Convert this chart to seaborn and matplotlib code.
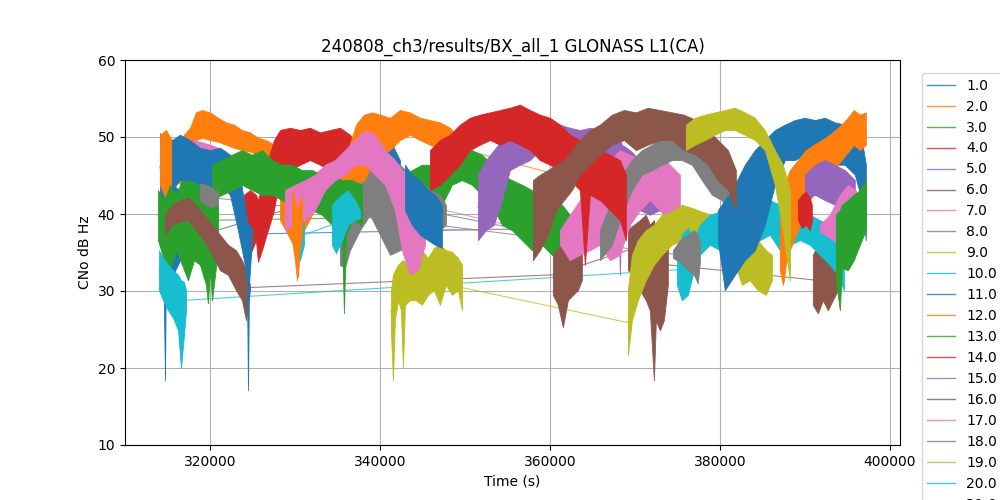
import numpy as np
import pandas as pd
import matplotlib
matplotlib.use('Agg')
import matplotlib.pyplot as plt
from matplotlib.lines import Line2D
import seaborn as sns

# Satellite C/N0 envelopes (time in s, low / high dB-Hz)
p01a_t = [314120, 314470, 314710, 314820, 315060, 315530, 316470, 317650, 318820, 320000]
p01a_hi = [50.5, 48.3, 47.0, 46.4, 45.7, 43.8, 43.1, 41.8, 41.2, 39.9]
p01a_lo = [41.8, 36.6, 18.4, 35.3, 32.7, 31.8, 34.0, 34.7, 35.3, 35.3]
p01b_t = [337650, 338240, 338820, 339410, 340000, 340590, 341180, 341760, 342350]
p01b_hi = [45.1, 49.6, 51.2, 51.9, 51.6, 50.9, 49.9, 48.3, 47.0]
p01b_lo = [41.8, 47.0, 48.6, 49.4, 48.6, 47.7, 45.7, 43.1, 41.8]

p02a_t = [314120, 314820, 315530, 316240, 316940, 317650, 318350, 319060, 320000, 320940,
          321880, 322820, 323760, 324710, 325650, 326590, 327530, 328000]
p02a_hi = [50.3, 50.9, 49.6, 48.3, 50.3, 51.2, 53.2, 53.5, 53.2, 52.5,
           51.9, 51.6, 50.9, 50.6, 49.9, 49.6, 49.0, 48.3]
p02a_lo = [43.8, 41.8, 43.1, 44.4, 42.5, 41.8, 49.6, 49.9, 49.6, 49.4,
           49.0, 48.6, 48.3, 48.1, 47.7, 47.3, 47.0, 46.8]

p03a_t = [313880, 314590, 315290, 316000, 316710, 317410, 318120, 318820, 319530, 319760,
          320000, 320240, 320940]
p03a_hi = [43.1, 41.8, 43.8, 42.5, 44.4, 45.7, 44.4, 45.1, 46.4, 45.7, 45.1, 45.1, 43.1]
p03a_lo = [36.6, 34.0, 32.7, 35.3, 33.4, 31.4, 34.0, 33.4, 30.8, 28.4, 32.7, 28.8, 35.3]
p03b_t = [340350, 341410, 342590, 343760, 344940, 346120, 347290, 348470, 349650, 350820,
          352000, 353180, 354350, 355530, 356710, 357880, 359060, 360240, 361410, 362350]
p03b_hi = [41.8, 43.8, 45.1, 45.7, 46.4, 46.4, 47.0, 48.3, 49.0, 48.3,
           47.7, 46.4, 45.1, 44.4, 43.8, 43.1, 42.5, 41.8, 41.2, 39.9]
p03b_lo = [37.3, 37.9, 36.6, 34.0, 37.9, 39.9, 41.2, 43.8, 44.4, 43.8,
           42.5, 41.2, 38.6, 37.9, 36.6, 35.3, 36.0, 34.7, 34.0, 33.4]

p04a_t = [324000, 324710, 325410, 325650, 326120, 326820, 327530, 328240, 329410, 330590,
          331760, 332940, 334120, 335290, 336470, 337650, 338820, 340000, 341180, 341880]
p04a_hi = [42.5, 43.1, 42.5, 41.8, 43.8, 47.0, 49.6, 50.9, 51.2, 50.9,
           51.2, 50.6, 50.9, 51.2, 50.3, 48.3, 46.4, 45.1, 45.7, 44.4]
p04a_lo = [36.6, 34.7, 36.6, 33.8, 35.3, 37.9, 40.5, 45.1, 45.7, 46.4,
           47.0, 46.4, 45.7, 46.4, 45.1, 41.8, 39.9, 37.9, 39.2, 37.9]

p05a_t = [351530, 352470, 353410, 354350, 355290, 356470, 357650, 358820, 360000, 361180,
          362350, 363530, 364710, 365880, 367060, 368000, 368240, 368470, 369410, 370590,
          371760, 372940, 374120]
p05a_hi = [45.1, 47.0, 48.3, 49.6, 50.3, 51.2, 51.6, 51.9, 51.6, 51.6,
           51.2, 50.9, 51.2, 50.9, 50.3, 49.6, 49.6, 49.0, 48.3, 47.0,
           45.7, 45.1, 43.8]
p05a_lo = [36.6, 37.9, 38.6, 41.8, 45.7, 46.4, 47.0, 48.3, 48.6, 48.3,
           48.3, 47.7, 47.7, 47.0, 46.4, 45.1, 32.1, 44.4, 43.1, 40.5,
           39.9, 40.5, 39.2]

p06a_t = [314710, 315530, 316470, 317410, 318350, 319290, 320240, 321180, 322120, 323060,
          323760, 324240, 324710]
p06a_hi = [39.9, 41.2, 41.8, 42.1, 41.2, 39.9, 38.6, 37.3, 36.0, 35.3, 34.0, 32.7, 30.8]
p06a_lo = [37.3, 38.6, 39.0, 39.2, 37.9, 36.6, 34.7, 32.7, 32.1, 30.1, 28.8, 26.2, 30.1]
p06b_t = [360350, 360940, 361530, 362120, 362710, 363290, 363760]
p06b_hi = [34.7, 35.6, 36.0, 36.6, 37.3, 36.6, 35.3]
p06b_lo = [29.5, 28.2, 25.3, 28.8, 29.5, 30.1, 31.4]
p06c_t = [369180, 369880, 370590, 371290, 371760, 372240, 372470, 372940, 373410, 373880]
p06c_hi = [37.9, 38.6, 39.2, 39.9, 38.6, 39.2, 37.9, 37.3, 36.6, 36.0]
p06c_lo = [32.7, 32.1, 30.1, 28.8, 27.5, 18.4, 26.2, 24.9, 26.2, 30.8]
p06d_t = [390940, 391530, 392120, 392710, 393290, 393880]
p06d_hi = [34.7, 36.0, 35.3, 36.0, 35.3, 34.0]
p06d_lo = [28.2, 27.1, 28.8, 27.5, 28.8, 30.1]

p07a_t = [315530, 316470, 317650, 318820, 320000, 320940, 321880]
p07a_hi = [48.3, 49.0, 49.6, 49.4, 49.0, 48.6, 48.1]
p07a_lo = [45.1, 46.4, 47.3, 47.7, 47.3, 47.0, 46.4]
p07b_t = [361180, 362350, 363530, 364710, 365880, 367060, 368240, 369410, 370590, 371760,
          372940, 374120, 375290]
p07b_hi = [37.9, 39.9, 41.8, 43.8, 45.7, 47.0, 48.3, 47.7, 47.0, 48.3, 47.7, 46.4, 45.1]
p07b_lo = [36.0, 34.0, 34.7, 35.3, 36.0, 34.0, 34.7, 38.6, 40.5, 41.8, 40.5, 39.2, 39.9]

p08a_t = [335290, 335880, 336470, 337650, 338820, 340000, 341180, 342350, 343530, 344710,
          345880, 347060, 347760]
p08a_hi = [41.8, 43.1, 44.4, 45.1, 46.4, 45.7, 47.0, 46.4, 45.1, 44.4, 43.1, 42.5, 41.2]
p08a_lo = [33.4, 33.0, 35.3, 37.9, 39.9, 37.3, 34.7, 35.3, 36.0, 37.9, 38.6, 37.9, 38.6]
p08b_t = [365880, 367290, 368470, 369650, 370820, 372000, 373180, 374350, 375530, 376710,
          377880, 379060, 380240, 380940]
p08b_hi = [37.9, 41.8, 45.1, 47.0, 48.3, 49.0, 49.9, 50.3, 50.9, 50.3, 49.0, 48.3, 47.7, 45.7]
p08b_lo = [34.0, 36.0, 39.9, 43.1, 45.1, 45.7, 46.4, 47.0, 47.0, 46.4, 44.4, 42.5, 41.8, 39.9]

p09a_t = [341290, 341530, 341760, 342120, 342470, 342710, 342940, 343530, 344240, 344940,
          345650, 346350, 347060, 347760, 348470, 349180, 349650]
p09a_hi = [30.1, 32.1, 32.7, 33.4, 33.8, 34.0, 33.8, 33.8, 34.7, 35.3,
           34.3, 35.6, 36.0, 35.3, 35.1, 34.3, 33.4]
p09a_lo = [24.9, 18.4, 26.2, 28.8, 27.5, 20.0, 28.2, 28.8, 28.8, 28.2,
           29.5, 30.1, 28.2, 30.8, 29.5, 30.1, 27.5]
p09b_t = [369180, 369650, 370350, 371290, 372240, 373180, 374350, 375530, 376710, 377880,
          379060, 380240, 381410, 382590, 383530, 384470, 385410, 386120]
p09b_hi = [30.1, 34.7, 36.6, 37.9, 38.6, 39.9, 40.3, 41.2, 40.8, 40.3,
           39.9, 39.2, 38.6, 37.9, 37.3, 36.6, 35.3, 34.7]
p09b_lo = [21.7, 26.2, 28.8, 31.4, 33.4, 34.7, 36.0, 36.6, 37.3, 36.6,
           36.0, 35.3, 34.7, 30.8, 31.4, 30.1, 29.5, 31.4]

p10a_t = [314000, 314470, 315060, 315650, 316240, 316590, 316940, 317180]
p10a_hi = [35.3, 34.3, 33.4, 32.7, 32.1, 31.4, 31.2, 30.1]
p10a_lo = [30.1, 28.8, 27.5, 26.5, 24.9, 20.0, 24.3, 27.5]
p10b_t = [374940, 375530, 376240, 376940, 377650, 378820, 380000, 381180, 382350, 383530,
          384710, 385880, 387060, 388240, 389410, 390590, 391760, 392940, 393880, 394590]
p10b_hi = [34.7, 37.3, 38.2, 36.6, 38.6, 39.9, 40.3, 39.5, 39.9, 40.3,
           40.8, 41.8, 41.2, 41.8, 40.5, 39.9, 39.2, 38.6, 37.3, 36.0]
p10b_lo = [30.8, 28.8, 29.5, 32.7, 34.7, 36.0, 35.3, 36.0, 36.6, 36.4,
           36.6, 37.3, 35.3, 36.0, 36.6, 36.0, 34.7, 33.4, 32.1, 30.1]

p11a_t = [315530, 316470, 317650, 318820, 320000, 321180, 322350, 323290, 324000, 324350,
          324470, 324590, 324940]
p11a_hi = [49.6, 50.3, 49.6, 48.6, 48.3, 48.6, 47.7, 46.4, 41.8, 39.2, 38.6, 38.6, 38.2]
p11a_lo = [43.1, 44.4, 44.4, 43.8, 43.1, 43.8, 42.5, 37.9, 34.0, 31.4, 17.1, 30.8, 36.6]
p11b_t = [379760, 380590, 381760, 382940, 384120, 385290, 386470, 387650, 388820, 390000,
          391180, 392350, 393530, 394710, 395880, 396710, 397180]
p11b_hi = [40.5, 41.8, 43.8, 46.4, 48.3, 49.6, 50.9, 51.6, 52.2, 52.5,
           52.2, 52.5, 51.9, 51.6, 50.9, 49.6, 46.4]
p11b_lo = [36.6, 30.1, 32.1, 34.0, 35.3, 38.6, 43.8, 47.0, 47.0, 47.7,
           47.7, 47.0, 46.4, 46.4, 45.1, 41.8, 36.6]

p12a_t = [328240, 329180, 330120, 330350, 330590, 331060, 332000, 332940, 334120, 335290,
          336240, 337180, 338120, 339060, 340000, 341180, 342350, 343530, 344710, 345880,
          347060, 348240, 348940]
p12a_hi = [45.1, 46.4, 45.7, 45.1, 44.4, 44.4, 45.1, 45.7, 46.4, 47.0,
           48.3, 51.6, 52.9, 53.2, 52.9, 52.5, 53.5, 53.2, 52.5, 52.2,
           51.9, 51.2, 50.3]
p12a_lo = [39.2, 37.3, 35.3, 31.8, 36.0, 37.9, 39.9, 41.8, 42.5, 41.8,
           42.5, 43.8, 44.4, 46.4, 47.7, 48.3, 49.6, 50.3, 49.6, 49.0,
           48.6, 48.3, 47.0]
p12b_t = [387060, 387410, 387530, 387760, 388240, 389180, 390120, 391060, 392000, 392940,
          393880, 394820, 395760, 396470, 397180]
p12b_hi = [41.8, 43.1, 45.1, 44.4, 45.7, 47.0, 48.3, 49.0, 49.6, 50.3,
           51.2, 52.2, 53.5, 52.9, 53.2]
p12b_lo = [32.7, 30.8, 31.4, 33.4, 35.3, 37.9, 41.2, 42.5, 43.8, 45.1,
           46.4, 47.7, 49.0, 48.3, 49.0]

p13a_t = [320240, 321410, 322590, 323760, 324940, 326120, 327290, 328470, 329650, 330820,
          332000, 333180, 334350, 335530, 335760, 336000, 336710, 337880]
p13a_hi = [46.4, 47.0, 47.7, 48.3, 47.7, 48.3, 47.0, 46.4, 46.4, 45.7,
           45.7, 45.1, 45.1, 44.4, 44.4, 44.4, 44.4, 43.8]
p13a_lo = [41.8, 42.5, 43.1, 43.8, 43.1, 42.5, 42.5, 41.8, 41.2, 40.5,
           40.5, 39.9, 38.6, 37.9, 27.1, 37.3, 39.2, 38.6]

p14a_t = [345880, 347060, 348240, 349410, 350590, 351760, 352940, 354120, 355290, 356470,
          357650, 358820, 360000, 361180, 362350, 363530, 364120, 364710, 365880, 367060,
          368240, 368940]
p14a_hi = [48.3, 49.6, 50.3, 51.6, 52.5, 52.9, 53.2, 53.5, 53.8, 54.2,
           53.5, 52.9, 52.5, 51.6, 50.3, 49.6, 49.4, 49.0, 48.3, 47.7,
           47.0, 45.1]
p14a_lo = [43.1, 43.8, 45.1, 46.4, 48.3, 49.0, 49.6, 49.0, 49.6, 49.0,
           48.3, 47.0, 46.4, 45.7, 44.4, 43.1, 33.4, 42.5, 41.8, 40.5,
           39.2, 36.6]

p15a_t = [390000, 391180, 392350, 393530, 394710, 395880]
p15a_hi = [45.1, 46.4, 47.0, 46.4, 45.7, 44.4]
p15a_lo = [41.8, 42.5, 41.8, 41.2, 41.8, 41.8]

p16a_t = [358000, 358820, 359760, 360710, 361650, 362590, 363530, 364710, 365880, 367290,
          368710, 370120, 371530, 372940, 374350, 375760, 377180, 378590, 379760, 380940,
          381880]
p16a_hi = [44.4, 45.1, 45.7, 46.4, 47.0, 48.3, 49.6, 50.9, 51.6, 52.9,
           53.5, 53.2, 53.8, 53.5, 53.2, 52.9, 52.2, 50.9, 49.6, 48.3, 45.7]
p16a_lo = [34.0, 35.3, 37.3, 40.5, 41.8, 43.1, 45.1, 46.4, 47.7, 49.0,
           49.6, 48.3, 49.0, 49.6, 49.6, 48.3, 47.7, 46.4, 44.4, 43.1, 40.5]

p17a_t = [328820, 330000, 331180, 332350, 333530, 334710, 335880, 337060, 338240, 339410,
          340590, 341760, 342590, 343530, 344470, 345290]
p17a_hi = [43.1, 43.8, 44.4, 45.1, 46.4, 47.0, 48.3, 49.6, 50.9, 50.3,
           48.3, 47.0, 45.7, 45.1, 43.1, 39.9]
p17a_lo = [37.9, 38.6, 39.2, 40.5, 43.1, 44.4, 45.1, 46.4, 46.4, 45.1,
           43.8, 40.5, 35.3, 32.1, 32.7, 36.0]
p17b_t = [391760, 392940, 394120, 395060, 396000]
p17b_hi = [38.6, 39.9, 42.5, 43.8, 43.1]
p17b_lo = [37.7, 36.9, 36.0, 36.6, 37.3]

p18a_t = [318820, 319530, 320240, 320940]
p18a_hi = [44.0, 43.8, 43.4, 42.9]
p18a_lo = [41.8, 41.2, 40.9, 41.2]
p18b_t = [374470, 375290, 376240, 376940, 377410, 377650]
p18b_hi = [35.3, 36.6, 37.3, 37.9, 37.3, 36.6]
p18b_lo = [34.3, 33.8, 32.7, 32.1, 31.0, 33.8]

p19a_t = [376000, 377060, 378240, 379410, 380590, 381760, 382940, 384120, 385290, 386470,
          387410, 388240]
p19a_hi = [51.6, 52.5, 52.9, 53.2, 53.5, 53.8, 53.2, 52.5, 50.9, 48.3, 46.4, 43.1]
p19a_lo = [48.3, 49.0, 49.6, 50.3, 50.9, 50.9, 50.3, 49.6, 48.3, 43.8, 37.9, 31.4]

p20a_t = [330120, 330590, 331060]
p20a_hi = [39.2, 39.9, 38.6]
p20a_lo = [35.3, 34.0, 36.0]
p20b_t = [334350, 334820, 335530, 336240, 337060, 337650]
p20b_hi = [41.2, 41.8, 42.5, 43.1, 41.8, 40.5]
p20b_lo = [36.0, 34.9, 36.6, 38.6, 39.2, 39.5]

p21a_t = [342940, 343760, 344710, 345650, 346470, 347290]
p21a_hi = [46.4, 45.1, 44.4, 43.1, 42.5, 41.2]
p21a_lo = [40.5, 38.6, 37.3, 36.6, 36.0, 35.6]

p22a_t = [329650, 330000, 330240, 330470, 330820]
p22a_hi = [43.1, 41.8, 40.5, 41.2, 42.5]
p22a_lo = [36.6, 34.0, 31.4, 34.7, 37.3]

p23a_t = [393650, 394120, 394350, 395060, 395760, 396470, 397180]
p23a_hi = [39.9, 40.5, 41.2, 41.8, 42.5, 43.1, 44.4]
p23a_lo = [31.4, 27.5, 33.0, 32.7, 34.0, 36.0, 37.9]

p24a_t = [389180, 389650, 390120, 390590, 390820]
p24a_hi = [41.8, 42.5, 42.9, 42.1, 41.2]
p24a_lo = [39.2, 38.2, 38.6, 37.9, 39.0]

segments = {
    1: [(p01a_t, p01a_lo, p01a_hi), (p01b_t, p01b_lo, p01b_hi)],
    2: [(p02a_t, p02a_lo, p02a_hi)],
    3: [(p03a_t, p03a_lo, p03a_hi), (p03b_t, p03b_lo, p03b_hi)],
    4: [(p04a_t, p04a_lo, p04a_hi)],
    5: [(p05a_t, p05a_lo, p05a_hi)],
    6: [(p06a_t, p06a_lo, p06a_hi), (p06b_t, p06b_lo, p06b_hi),
        (p06c_t, p06c_lo, p06c_hi), (p06d_t, p06d_lo, p06d_hi)],
    7: [(p07a_t, p07a_lo, p07a_hi), (p07b_t, p07b_lo, p07b_hi)],
    8: [(p08a_t, p08a_lo, p08a_hi), (p08b_t, p08b_lo, p08b_hi)],
    9: [(p09a_t, p09a_lo, p09a_hi), (p09b_t, p09b_lo, p09b_hi)],
    10: [(p10a_t, p10a_lo, p10a_hi), (p10b_t, p10b_lo, p10b_hi)],
    11: [(p11a_t, p11a_lo, p11a_hi), (p11b_t, p11b_lo, p11b_hi)],
    12: [(p12a_t, p12a_lo, p12a_hi), (p12b_t, p12b_lo, p12b_hi)],
    13: [(p13a_t, p13a_lo, p13a_hi)],
    14: [(p14a_t, p14a_lo, p14a_hi)],
    15: [(p15a_t, p15a_lo, p15a_hi)],
    16: [(p16a_t, p16a_lo, p16a_hi)],
    17: [(p17a_t, p17a_lo, p17a_hi), (p17b_t, p17b_lo, p17b_hi)],
    18: [(p18a_t, p18a_lo, p18a_hi), (p18b_t, p18b_lo, p18b_hi)],
    19: [(p19a_t, p19a_lo, p19a_hi)],
    20: [(p20a_t, p20a_lo, p20a_hi), (p20b_t, p20b_lo, p20b_hi)],
    21: [(p21a_t, p21a_lo, p21a_hi)],
    22: [(p22a_t, p22a_lo, p22a_hi)],
    23: [(p23a_t, p23a_lo, p23a_hi)],
    24: [(p24a_t, p24a_lo, p24a_hi)],
}

tab10 = sns.color_palette('tab10')
palette = {float(p): tab10[(p - 1) % 10] for p in segments}

# long table for the connecting trace of every satellite
rows = []
for prn, segs in segments.items():
    for t, lo, hi in segs:
        for ti, l, h in zip(t, lo, hi):
            rows.append((float(prn), ti, (l + h) / 2))
df = pd.DataFrame(rows, columns=['prn', 'time', 'cno'])

fig, ax = plt.subplots(figsize=(10, 5), dpi=100)
sns.lineplot(data=df, x='time', y='cno', hue='prn', palette=palette, sort=False,
             estimator=None, linewidth=0.8, alpha=0.75, zorder=1.5, legend=False, ax=ax)

for prn, segs in segments.items():
    for t, lo, hi in segs:
        ax.fill_between(t, lo, hi, color=palette[float(prn)], linewidth=0.6, zorder=2)

ax.set_xlim(310000, 401200)
ax.set_ylim(10, 60)
ax.grid(True)
ax.set_axisbelow(True)
ax.set_title('240808_ch3/results/BX_all_1 GLONASS L1(CA)')
ax.set_xlabel('Time (s)')
ax.set_ylabel('CNo dB Hz')

handles = [Line2D([], [], color=palette[k], linewidth=1.0, alpha=0.8) for k in palette]
labels = [f'{k:.1f}' for k in palette]
ax.legend(handles, labels, loc='upper left', bbox_to_anchor=(1.028, 0.966),
          borderaxespad=0)

fig.savefig('out.png', dpi=100)
